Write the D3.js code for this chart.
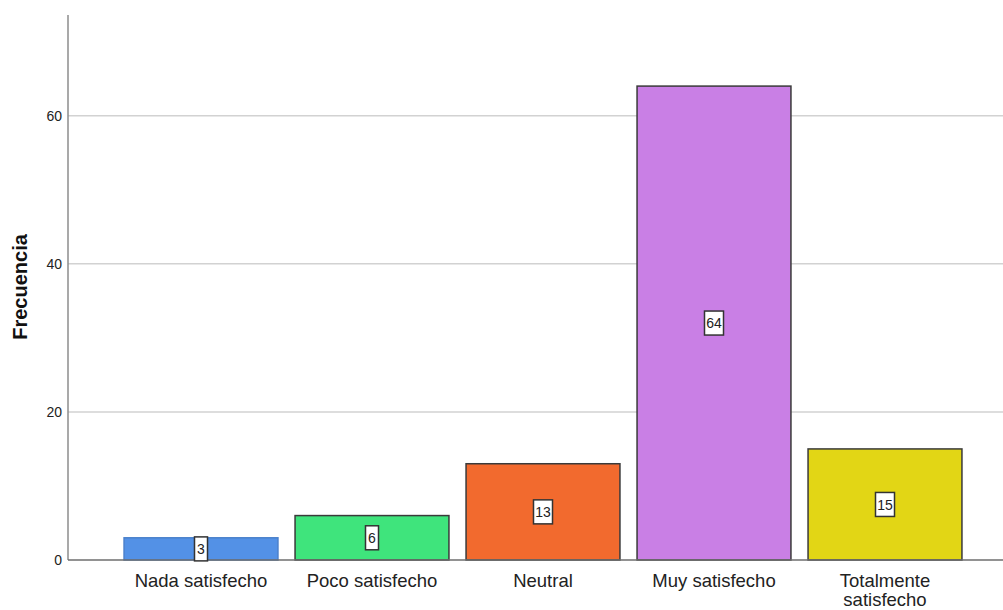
<!DOCTYPE html>
<html lang="es">
<head>
<meta charset="UTF-8">
<title>Frecuencia</title>
<script src="https://d3js.org/d3.v7.min.js"></script>
<style>
  body { margin: 0; background: #fff; }
  text { font-family: "Liberation Sans", Arial, sans-serif; }
</style>
</head>
<body>
<svg id="chart"></svg>
<script>
// data
var categories = ["Nada satisfecho", "Poco satisfecho", "Neutral", "Muy satisfecho", "Totalmente satisfecho"];
var labelLines = [["Nada satisfecho"], ["Poco satisfecho"], ["Neutral"], ["Muy satisfecho"], ["Totalmente", "satisfecho"]];
var counts = [3, 6, 13, 64, 15];
var barColors = ["#5391e6", "#3fe47c", "#f26a2e", "#c97fe5", "#e2d615"];
var yTicks = [0, 20, 40, 60];

var W = 1003, H = 610;
var svg = d3.select("#chart").attr("width", W).attr("height", H);

var x = d3.scaleBand()
    .domain(categories)
    .range([115.5, 970.5])
    .paddingInner(0.1)
    .paddingOuter(0.05);

var y = d3.scaleLinear()
    .domain([0, 73.6])
    .range([560, 15]);

// gridlines
svg.append("g")
    .selectAll("line")
    .data(yTicks.filter(function (d) { return d > 0; }))
    .enter()
    .append("line")
    .attr("x1", 68).attr("x2", W)
    .attr("y1", function (d) { return y(d); })
    .attr("y2", function (d) { return y(d); })
    .attr("stroke", "#d2d2d2")
    .attr("stroke-width", 1.5);

// bars
svg.append("g")
    .selectAll("rect")
    .data(counts)
    .enter()
    .append("rect")
    .attr("x", function (d, i) { return x(categories[i]); })
    .attr("y", function (d) { return y(d); })
    .attr("width", x.bandwidth())
    .attr("height", function (d) { return y(0) - y(d); })
    .attr("fill", function (d, i) { return barColors[i]; })
    .attr("stroke", function (d, i) { return i === 0 ? "#4a80cc" : "#3a3a3a"; })
    .attr("stroke-width", 1.5);

// y axis
var yAxis = svg.append("g")
    .attr("transform", "translate(68,0)")
    .call(d3.axisLeft(y).tickValues(yTicks).tickSize(0).tickPadding(6));
yAxis.select(".domain").remove();
yAxis.selectAll("text")
    .style("font-size", "14px")
    .attr("fill", "#222");
svg.append("line")
    .attr("x1", 68).attr("x2", 68)
    .attr("y1", 15).attr("y2", y(0))
    .attr("stroke", "#8c8c8c").attr("stroke-width", 1.5);

// x baseline
svg.append("line")
    .attr("x1", 68).attr("x2", W)
    .attr("y1", y(0)).attr("y2", y(0))
    .attr("stroke", "#6e6e6e").attr("stroke-width", 1.5);

// category labels
svg.append("g")
    .selectAll("text")
    .data(labelLines)
    .enter()
    .append("text")
    .attr("x", function (d, i) { return x(categories[i]) + x.bandwidth() / 2; })
    .attr("y", 587)
    .attr("text-anchor", "middle")
    .style("font-size", "18.5px")
    .attr("fill", "#222")
    .each(function (lines) {
        var t = d3.select(this);
        lines.forEach(function (l, j) {
            t.append("tspan")
                .attr("x", t.attr("x"))
                .attr("dy", j === 0 ? 0 : 19)
                .text(l);
        });
    });

// y title
svg.append("text")
    .attr("transform", "translate(27,287) rotate(-90)")
    .attr("text-anchor", "middle")
    .style("font-size", "20px")
    .style("font-weight", "bold")
    .attr("fill", "#111")
    .text("Frecuencia");

// value labels
var vl = svg.append("g")
    .selectAll("g")
    .data(counts)
    .enter()
    .append("g")
    .attr("transform", function (d, i) {
        return "translate(" + (x(categories[i]) + x.bandwidth() / 2) + "," + (y(d / 2)) + ")";
    });
vl.append("rect")
    .attr("x", function (d) { return d >= 10 ? -9.5 : -6.5; })
    .attr("y", -12)
    .attr("width", function (d) { return d >= 10 ? 19 : 13; })
    .attr("height", 24)
    .attr("fill", "#fff")
    .attr("stroke", "#333")
    .attr("stroke-width", 1.5);
vl.append("text")
    .attr("text-anchor", "middle")
    .attr("dy", "0.36em")
    .style("font-size", "14px")
    .attr("fill", "#222")
    .text(function (d) { return d; });
</script>
</body>
</html>
